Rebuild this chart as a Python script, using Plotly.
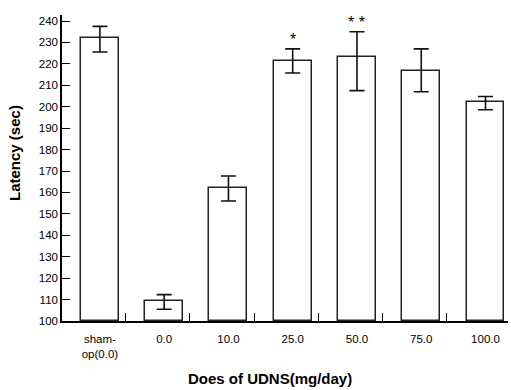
import plotly.graph_objects as go

categories = ["sham-<br>op(0.0)", "0.0", "10.0", "25.0", "50.0", "75.0", "100.0"]
latency = [232, 109.3, 162, 221.5, 223, 216.5, 202]
err_plus = [5.5, 3.0, 5.7, 5.5, 12.0, 10.5, 2.8]
err_minus = [6.5, 3.8, 6.0, 5.8, 15.5, 9.5, 3.4]
sig_marks = {3: "*", 4: "* *"}
y_ticks = list(range(100, 241, 10))

xs = list(range(len(categories)))

fig = go.Figure()
fig.add_trace(go.Bar(
    x=xs, y=[v - 100 for v in latency], base=100, width=0.59,
    marker=dict(color="white", line=dict(color="#222", width=1.5)),
    error_y=dict(type="data", symmetric=False, array=err_plus, arrayminus=err_minus,
                 color="#111", thickness=1.6, width=7.5),
    showlegend=False, hoverinfo="skip",
))

for i, s in sig_marks.items():
    fig.add_annotation(x=i, y=latency[i] + err_plus[i], text=s, showarrow=False,
                       yanchor="bottom", yshift=-1, font=dict(size=16, color="black"))

fig.add_annotation(xref="paper", yref="paper", x=(270 - 62) / 446, y=-(378 - 321) / 306,
                   text="<b>Does of UDNS(mg/day)</b>", showarrow=False,
                   font=dict(size=15, color="black"), xanchor="center", yanchor="middle")
fig.add_annotation(xref="paper", yref="paper", x=-(62 - 15) / 446, y=(321 - 153) / 306,
                   text="<b>Latency (sec)</b>", showarrow=False, textangle=-90,
                   font=dict(size=15, color="black"), xanchor="center", yanchor="middle")

fig.update_layout(
    width=511, height=390,
    margin=dict(l=62, r=3, t=15, b=69, autoexpand=False),
    plot_bgcolor="white", paper_bgcolor="white",
    font=dict(family="Liberation Sans, Arial, sans-serif", color="black", size=11.5),
    bargap=0,
)
fig.update_xaxes(
    range=[-0.59, 6.35], tickvals=xs, ticktext=categories, ticks="",
    showline=True, linecolor="black", linewidth=1.5, showgrid=False, zeroline=False,
    ticklabelstandoff=6, tickfont=dict(size=11.5), automargin=False,
    minor=dict(ticks="inside", ticklen=8, tick0=0.40, dtick=1, tickcolor="black",
               tickwidth=1.2, showgrid=False),
)
fig.update_yaxes(
    range=[100, 242.8], tickvals=y_ticks, ticks="inside", ticklen=8, tickwidth=1.2,
    tickcolor="black", showline=True, linecolor="black", linewidth=1.5,
    showgrid=False, zeroline=False, tickfont=dict(size=11.5), automargin=False,
)

fig.write_html("out.html", config={"displayModeBar": False},
               post_script="document.body.style.margin='0';document.body.style.overflow='hidden';")
